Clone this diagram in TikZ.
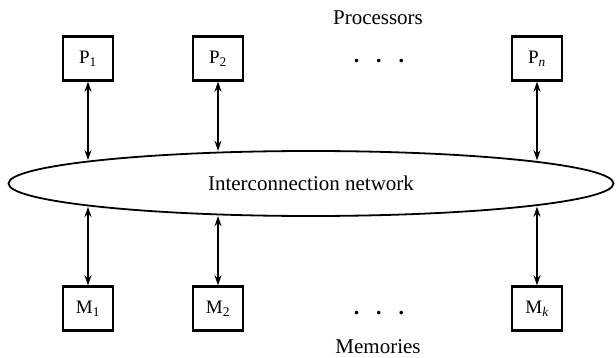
\documentclass[tikz,border=0pt]{standalone}
\usepackage{fontspec}
\setmainfont{Liberation Serif}
\usetikzlibrary{shapes.geometric,arrows.meta}
\begin{document}
\begin{tikzpicture}[x=1pt, y=-1pt, box/.style={rectangle, draw, line width=2.4pt, minimum width=50pt, minimum height=44pt, font=\fontsize{19}{22}\selectfont}, txt/.style={font=\fontsize{21}{25}\selectfont}, >={Stealth[length=10pt, width=7pt]}]
        \useasboundingbox (0,0) rectangle (616,358);
        \node[txt] (proc) at (378, 18) {Processors};
        \node[box] (p1) at (88, 58.5) {P\textsubscript{1}};
        \node[box] (p2) at (218, 58.5) {P\textsubscript{2}};
        \node[box] (pn) at (537, 58.5) {P\textsubscript{\itshape n}};
        \node[txt, font=\fontsize{22}{25}\bfseries] (topdots) at (379, 61) {.\hspace{17pt}.\hspace{17pt}.};
        \node[draw, ellipse, line width=1.8pt, inner sep=0pt, minimum width=605pt, minimum height=65pt, txt] (net) at (311, 183.5) {Interconnection network};
        \node[box] (m1) at (88, 308.5) {M\textsubscript{1}};
        \node[box] (m2) at (218, 308.5) {M\textsubscript{2}};
        \node[box] (mk) at (537, 308.5) {M\textsubscript{\itshape k}};
        \node[txt, font=\fontsize{22}{25}\bfseries] (botdots) at (379, 313) {.\hspace{17pt}.\hspace{17pt}.};
        \node[txt] (mem) at (378, 347) {Memories};
        % where the links meet the ellipse
        \coordinate (n1) at (88, 160);
        \coordinate (n2) at (218, 150.8);
        \coordinate (nn) at (537, 160.3);
        \coordinate (s1) at (88, 207);
        \coordinate (s2) at (218, 216.2);
        \coordinate (sk) at (537, 206.7);
        \draw[<->, line width=1.3pt] (p1) -- (n1);
        \draw[<->, line width=1.3pt] (p2) -- (n2);
        \draw[<->, line width=1.3pt] (pn) -- (nn);
        \draw[<->, line width=1.3pt] (s1) -- (m1);
        \draw[<->, line width=1.3pt] (s2) -- (m2);
        \draw[<->, line width=1.3pt] (sk) -- (mk);
    \end{tikzpicture}
\end{document}
